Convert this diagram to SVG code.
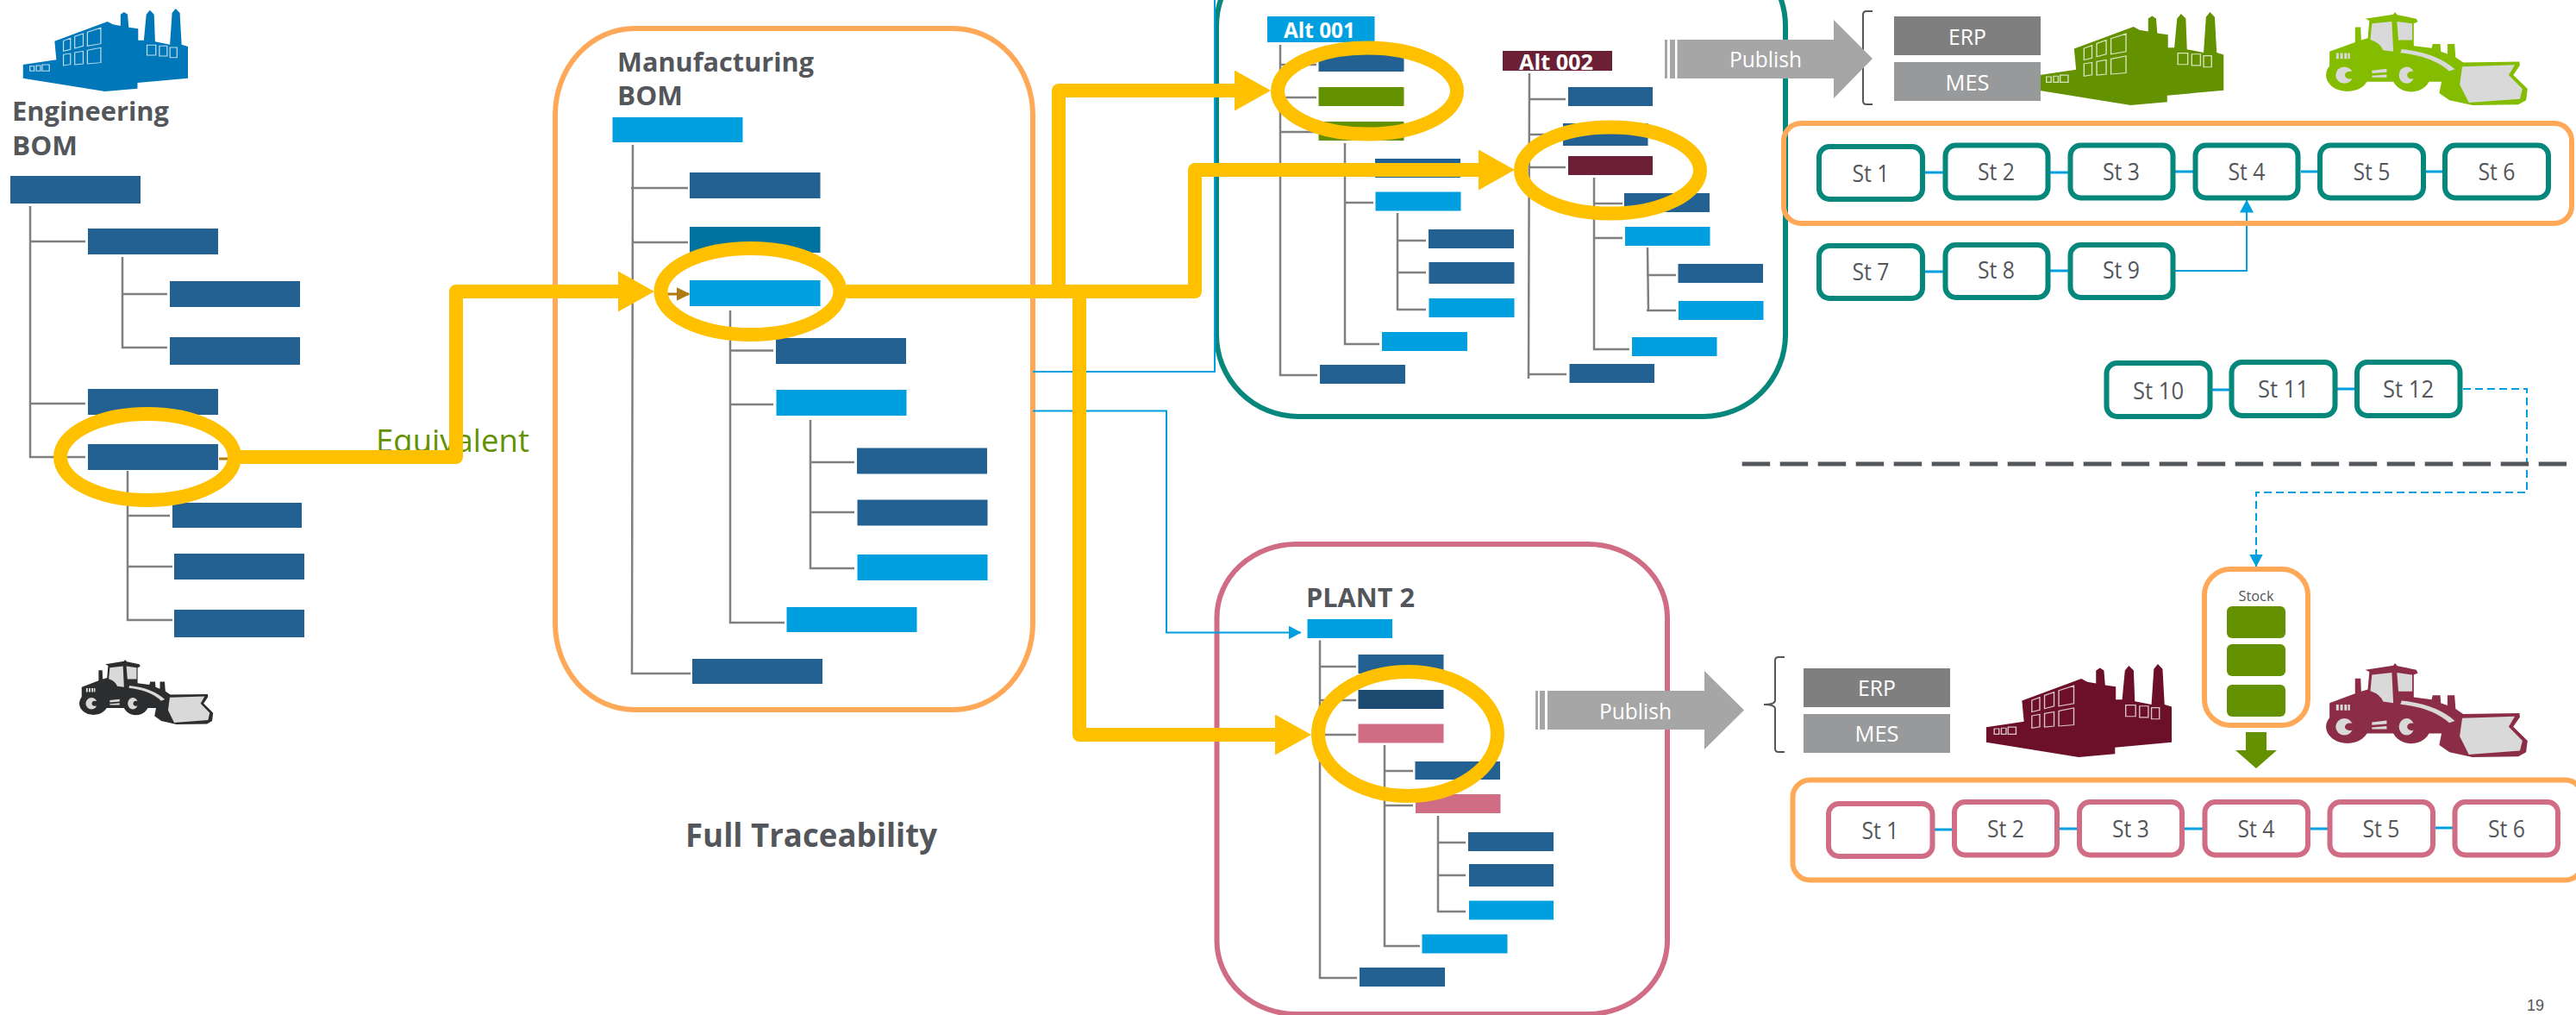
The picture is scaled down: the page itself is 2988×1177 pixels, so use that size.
<svg xmlns="http://www.w3.org/2000/svg" width="2988" height="1177" viewBox="0 0 2988 1177">
<style>
text{font-family:"Open Sans","Liberation Sans",sans-serif}
.d{fill:#236192}.l{fill:#009FDF}.g{fill:#639100}.m{fill:#6B2035}.p{fill:#D06D85}
.title{font-weight:700;font-size:31px;fill:#53565A}
.alt{font-weight:700;font-size:25px;fill:#fff}
.sys{font-size:26px;fill:#fff}
.pub{font-size:26px;fill:#fff}
.box{fill:none;stroke-width:6}
.or{stroke:#FFA857}.te{stroke:#05877B}.pk{stroke:#D06D85}
.st{fill:#fff;stroke-width:6}
.stx{font-size:27px;fill:#53565A}
.tree{fill:none;stroke:#7F7F7F;stroke-width:2.5}
.link{fill:none;stroke:#009FDF;stroke-width:3}
.thin{fill:none;stroke:#009FDF;stroke-width:2}
.hl{fill:none;stroke:#FFC000;stroke-width:16}
.hp{fill:none;stroke:#FFC000;stroke-width:16;stroke-linejoin:round}
.br{fill:none;stroke:#53565A;stroke-width:2}
.win{fill:none;stroke:#fff;stroke-opacity:.75;stroke-width:3}
.gr{fill:#D9D9D9}
</style>
<defs>
<symbol id="factory" viewBox="65 30 468 288" preserveAspectRatio="none">
<path d="M65 225L160 208L155 143L305 75L320 85L342 90L342 50L352 42L362 50L365 95L392 100L392 140L408 140L415 50L425 35L437 50L440 145L482 155L488 45L498 30L510 45L515 155L533 162L533 272L390 288L390 308L298 318L65 272Z"/>
<path class="win" d="M180 142L200 133V172L180 178ZM212 127L236 117V160L212 168ZM248 112L286 97V152L248 160ZM180 190L200 186V224L180 228ZM212 183L236 178V222L212 225ZM248 175L286 166V218L248 222ZM417 157H442V192H417ZM452 160H474V195H452ZM482 165H502V200H482ZM85 230H97V247H85ZM103 228H115V247H103ZM120 225H140V247H120Z"/>
</symbol>
<symbol id="loader" viewBox="1078 42 397 325" preserveAspectRatio="none">
<path d="M1085 180L1135 147V95H1146L1147 140L1160 133L1163 72L1155 65L1210 50L1213 42L1218 52L1255 65L1258 76L1250 82V160L1285 168L1287 153H1302L1303 180L1316 188V153H1330L1332 200L1350 222L1340 255L1310 285H1160L1085 290Z"/>
<ellipse cx="1120" cy="262" rx="42" ry="57"/><ellipse cx="1245" cy="262" rx="38" ry="58"/>
<path d="M1345 218L1457 215L1458 228L1445 262L1473 310L1470 350L1455 365L1365 367L1320 350L1300 325L1305 280Z"/>
<path class="gr" d="M1345 232L1448 226L1436 262L1463 310L1458 345L1358 358L1340 295Z"/>
<path class="gr" d="M1168 82L1207 75L1210 180L1190 175Q1185 150 1165 138Z"/>
<path class="gr" d="M1217 75L1247 82V140L1220 140Z"/>
<path d="M1225 178Q1290 190 1325 245" fill="none" stroke="#D9D9D9" stroke-width="13"/>
<ellipse class="gr" cx="1114" cy="262" rx="17" ry="29"/><ellipse cx="1125" cy="262" rx="10" ry="13"/>
<ellipse class="gr" cx="1236" cy="262" rx="15" ry="29"/><ellipse cx="1246" cy="262" rx="9" ry="13"/>
<path class="gr" d="M1168 246L1197 240V252L1168 256ZM1168 264L1197 260V270H1168Z"/>
<path class="gr" d="M1098 185H1103V205H1098ZM1106 185H1111V205H1106ZM1114 185H1119V205H1114ZM1121 185H1125V205H1121Z"/>
</symbol>
<marker id="ah" viewBox="0 0 42 47" refX="1" refY="23.5" markerWidth="42" markerHeight="47" markerUnits="userSpaceOnUse" orient="auto"><path d="M0 0L42 23.5L0 47Z" fill="#FFC000"/></marker>
<marker id="cy" viewBox="0 0 15 16" refX="14.5" refY="8" markerWidth="15" markerHeight="16" markerUnits="userSpaceOnUse" orient="auto"><path d="M0 0L15 8L0 16Z" fill="#009FDF"/></marker>
<marker id="br" viewBox="0 0 10 10" refX="9" refY="5" markerWidth="16" markerHeight="16" markerUnits="userSpaceOnUse" orient="auto"><path d="M0 0L10 5L0 10Z" fill="#B07A10"/></marker>
</defs>

<g id="equivalent-label"><text x="436" y="524" font-size="37" fill="#639100" textLength="178" lengthAdjust="spacingAndGlyphs">Equivalent</text></g>

<g id="engineering-bom">
<use href="#factory" x="26.5" y="10" width="191.5" height="96" fill="#0077B8"/>
<text class="title" x="14" y="140" textLength="182" lengthAdjust="spacingAndGlyphs">Engineering</text><text class="title" x="14" y="180" textLength="76" lengthAdjust="spacingAndGlyphs">BOM</text>
<rect class="d" x="12" y="204" width="151" height="32"/>
<rect class="d" x="102" y="265" width="151" height="30"/>
<rect class="d" x="197" y="326" width="151" height="30"/>
<rect class="d" x="197" y="391" width="151" height="32"/>
<rect class="d" x="102" y="451" width="151" height="30"/>
<rect class="d" x="102" y="515" width="151" height="30"/>
<rect class="d" x="200" y="583" width="150" height="29"/>
<rect class="d" x="202" y="642" width="151" height="30"/>
<rect class="d" x="202" y="707" width="151" height="32"/>
<use href="#loader" x="92" y="765" width="156" height="75" fill="#2B2D2E"/>
</g>

<g id="manufacturing-bom">
<rect class="box or" x="644" y="33" width="554" height="790" rx="92" ry="100"/>
<text class="title" x="716" y="83" textLength="228" lengthAdjust="spacingAndGlyphs">Manufacturing</text><text class="title" x="716" y="122" textLength="76" lengthAdjust="spacingAndGlyphs">BOM</text>
<rect class="l" x="710.5" y="136" width="151" height="29"/>
<rect class="d" x="800" y="200" width="151.500" height="30"/>
<rect fill="#00729F" x="800" y="263" width="151.500" height="30"/>
<rect class="l" x="800" y="325" width="151.500" height="30"/>
<rect class="d" x="900" y="392" width="151" height="30"/>
<rect class="l" x="900.500" y="452" width="151" height="30"/>
<rect class="d" x="994" y="519.500" width="151" height="30"/>
<rect class="d" x="994.500" y="579.500" width="151" height="30"/>
<rect class="l" x="994.500" y="643" width="151" height="30"/>
<rect class="l" x="912.500" y="704" width="151" height="29"/>
<rect class="d" x="803" y="764" width="151" height="29"/>
</g>

<g id="alternatives">
<rect class="box te" x="1411" y="-65" width="660" height="548" rx="95" ry="95"/>
<rect class="l" x="1470" y="19" width="124.500" height="30"/>
<text class="alt" x="1489" y="44" textLength="83" lengthAdjust="spacingAndGlyphs">Alt 001</text>
<rect class="d" x="1529.500" y="61" width="99" height="22"/>
<rect class="g" x="1529.500" y="101" width="99" height="22"/>
<rect class="g" x="1529.500" y="141" width="99" height="22"/>
<rect class="d" x="1595" y="184" width="99" height="22"/>
<rect class="l" x="1595.500" y="222.500" width="99" height="22"/>
<rect class="d" x="1657" y="266" width="99" height="22"/>
<rect class="d" x="1657.500" y="304" width="99" height="25"/>
<rect class="l" x="1657.500" y="346" width="99" height="22"/>
<rect class="l" x="1603" y="385" width="99" height="22"/>
<rect class="d" x="1531" y="423" width="99" height="22"/>
<rect class="m" x="1743" y="59" width="127" height="23"/>
<text class="alt" x="1762" y="80.500" textLength="86" lengthAdjust="spacingAndGlyphs">Alt 002</text>
<rect class="d" x="1819" y="101" width="98" height="22"/>
<rect class="d" x="1813" y="143" width="98.500" height="26"/>
<rect class="m" x="1819" y="181" width="98" height="22"/>
<rect class="d" x="1884" y="224" width="99" height="22"/>
<rect class="l" x="1885" y="263" width="98.500" height="22"/>
<rect class="d" x="1946.500" y="306" width="98.500" height="22"/>
<rect class="l" x="1947" y="349" width="98.500" height="22"/>
<rect class="l" x="1893" y="391" width="98.500" height="22"/>
<rect class="d" x="1820.500" y="422" width="98.500" height="22"/>
</g>

<g id="plant-2">
<rect class="box pk" x="1411.500" y="631" width="522.500" height="545" rx="92" ry="85"/>
<text class="title" x="1515" y="703.500" textLength="126" lengthAdjust="spacingAndGlyphs">PLANT 2</text>
<rect class="l" x="1516.500" y="718" width="98.500" height="22"/>
<rect class="d" x="1575.500" y="759" width="99" height="22"/>
<rect fill="#1C4A70" x="1575.500" y="800" width="99" height="22"/>
<rect class="p" x="1575.500" y="839.500" width="99" height="22"/>
<rect class="d" x="1641.500" y="883" width="98.500" height="21"/>
<rect class="p" x="1642" y="921" width="98.500" height="22"/>
<rect class="d" x="1703" y="965" width="99" height="22"/>
<rect class="d" x="1704" y="1002" width="98" height="26"/>
<rect class="l" x="1704" y="1044.500" width="98" height="22"/>
<rect class="l" x="1649.500" y="1083.500" width="99" height="22"/>
<rect class="d" x="1577" y="1122" width="99" height="22"/>
</g>

<g id="connectors">
<path class="tree" d="M35 239V530H99M35 280H99M35 468H99M142 298V403H194M142 341H194M148 546V719H200M148 598H197M148 657H200"/>
<path class="tree" d="M734 168L733 781H801M732 218H798M734 281H798M847 360V722H910M847 406.500H897M846 469H897M940 487V659H991M940 536H991M940 594H991"/>
<path class="tree" d="M1485 52V435H1528M1485 75H1527M1485 113H1527M1485 153H1527M1560 166V399H1600M1560 195H1592M1560 235H1593M1621 247V359H1654M1621 279H1654M1621 316H1654"/>
<path class="tree" d="M1774 85L1773 439M1773 434H1817M1774 115H1816M1774 156H1811M1774 194H1816M1849 206V405H1890M1849 236H1882M1849 276H1882M1911 287L1912 360M1910 319H1944M1910 360H1944"/>
<path class="tree" d="M1531 742.500V1134H1574M1531 773H1573M1531 812H1573M1531 852H1573M1606 864V1097H1647M1606 894H1639M1606 934H1639M1668 946V1057H1700M1668 977H1700M1668 1015H1700"/>
<path class="thin" d="M1198 431H1409V0"/>
<path class="thin" d="M1198 476.500H1353V733.500H1509" marker-end="url(#cy)"/>
<path d="M254 532H264" stroke="#B07A10" stroke-width="3" fill="none"/>
<path d="M774 341H799" stroke="#B07A10" stroke-width="3" fill="none" marker-end="url(#br)"/>
<path class="hp" d="M264 530H529V338H718" marker-end="url(#ah)"/>
<path class="hp" d="M982 338H1228V105H1433" marker-end="url(#ah)"/>
<path class="hp" d="M982 338H1386V197H1716" marker-end="url(#ah)"/>
<path class="hp" d="M1229 338H1252V852H1480" marker-end="url(#ah)"/>
<path class="link" d="M2233 200H2254M2378 200H2399M2523 199H2544M2669 199H2688M2814 199H2833M2233 315H2254M2378 314H2399M2566 452H2586M2711 451H2731"/>
<path class="link" d="M2244 962H2264M2389 961H2409M2534 961H2555M2680 961H2700M2825 960H2845"/>
<path class="thin" d="M2523 314H2606V232" marker-end="url(#cy)"/>
<path class="thin" stroke-width="2.500" stroke-dasharray="9 5" d="M2857 451H2931V571H2617V657" marker-end="url(#cy)"/>
<path fill="none" stroke="#53565A" stroke-width="5" stroke-dasharray="32.500 11.500" d="M2020.700 538H2977"/>
</g>

<g id="highlights">
<ellipse class="hl" cx="171" cy="530" rx="101" ry="50"/>
<ellipse class="hl" cx="870.500" cy="338" rx="104" ry="50"/>
<ellipse class="hl" cx="1586" cy="105.500" rx="104" ry="50"/>
<ellipse class="hl" cx="1868" cy="197.500" rx="104" ry="50"/>
<ellipse class="hl" cx="1633" cy="851" rx="104" ry="72"/>
</g>

<g id="publish-top">
<path class="br" d="M2172 13H2165Q2161 13 2161 17V117Q2161 121 2165 121H2172"/>
<path fill="#A6A6A6" d="M1931 46h3v45h-3ZM1937 46h6v45h-6ZM1945.500 46H2127V23L2172 68L2127 114V91H1945.500Z"/>
<text class="pub" x="2006" y="78" textLength="84" lengthAdjust="spacingAndGlyphs">Publish</text>
</g>
<g id="plant-1-top">
<use href="#factory" x="2364.500" y="14" width="215" height="108" fill="#639100"/>
<use href="#loader" x="2698" y="14" width="235" height="108" fill="#84BD00"/>
</g>
<g id="erp-top"><rect fill="#7F7F7F" x="2197" y="19" width="170" height="45"/><text class="sys" x="2260" y="52" textLength="44" lengthAdjust="spacingAndGlyphs">ERP</text></g>
<g id="mes-top"><rect fill="#97999B" x="2197" y="72" width="170" height="45"/><text class="sys" x="2256.500" y="105" textLength="51" lengthAdjust="spacingAndGlyphs">MES</text></g>

<g id="publish-bottom">
<path class="br" d="M2070 762H2063Q2059 762 2059 766V812Q2059 817 2046 817Q2059 817 2059 822V868Q2059 872 2063 872H2070"/>
<path fill="#A6A6A6" d="M1781 801h3v45h-3ZM1786 801h6v45h-6ZM1795 801H1977V778L2023 823.500L1977 869V846H1795Z"/>
<text class="pub" x="1855" y="834" textLength="84" lengthAdjust="spacingAndGlyphs">Publish</text>
</g>
<g id="erp-bottom"><rect fill="#7F7F7F" x="2092" y="775" width="170" height="45"/><text class="sys" x="2155" y="807" textLength="44" lengthAdjust="spacingAndGlyphs">ERP</text></g>
<g id="mes-bottom"><rect fill="#97999B" x="2092" y="828" width="170" height="45"/><text class="sys" x="2151.500" y="860" textLength="51" lengthAdjust="spacingAndGlyphs">MES</text></g>
<g id="plant-2-icons">
<use href="#factory" x="2304" y="770" width="215" height="108" fill="#6B1028"/>
<use href="#loader" x="2698" y="769" width="235" height="109" fill="#8C2D48"/>
</g>

<g id="top-line"><rect class="box or" x="2069" y="143" width="914" height="116" rx="20"/></g>
<g id="st-1"><rect class="st te" x="2110" y="170" width="120" height="61" rx="12"/><text class="stx" x="2148.500" y="211" textLength="43" lengthAdjust="spacingAndGlyphs">St 1</text></g>
<g id="st-2"><rect class="st te" x="2256.500" y="168.500" width="119" height="61" rx="12"/><text class="stx" x="2294" y="209" textLength="43" lengthAdjust="spacingAndGlyphs">St 2</text></g>
<g id="st-3"><rect class="st te" x="2401.500" y="168.500" width="119" height="61" rx="12"/><text class="stx" x="2439" y="209" textLength="43" lengthAdjust="spacingAndGlyphs">St 3</text></g>
<g id="st-4"><rect class="st te" x="2546.500" y="168.500" width="119" height="61" rx="12"/><text class="stx" x="2584.500" y="209" textLength="43" lengthAdjust="spacingAndGlyphs">St 4</text></g>
<g id="st-5"><rect class="st te" x="2691" y="168.500" width="120" height="61" rx="12"/><text class="stx" x="2729.500" y="209" textLength="43" lengthAdjust="spacingAndGlyphs">St 5</text></g>
<g id="st-6"><rect class="st te" x="2836" y="168.500" width="120" height="61" rx="12"/><text class="stx" x="2874.500" y="209" textLength="43" lengthAdjust="spacingAndGlyphs">St 6</text></g>
<g id="st-7"><rect class="st te" x="2110" y="285" width="120" height="61" rx="12"/><text class="stx" x="2148.500" y="325" textLength="43" lengthAdjust="spacingAndGlyphs">St 7</text></g>
<g id="st-8"><rect class="st te" x="2256.500" y="284" width="119" height="61" rx="12"/><text class="stx" x="2294" y="323" textLength="43" lengthAdjust="spacingAndGlyphs">St 8</text></g>
<g id="st-9"><rect class="st te" x="2401.500" y="284" width="119" height="61" rx="12"/><text class="stx" x="2439" y="323" textLength="43" lengthAdjust="spacingAndGlyphs">St 9</text></g>
<g id="st-10"><rect class="st te" x="2443.500" y="421" width="120" height="62" rx="12"/><text class="stx" x="2474" y="463" textLength="59" lengthAdjust="spacingAndGlyphs">St 10</text></g>
<g id="st-11"><rect class="st te" x="2588.500" y="420" width="120" height="62" rx="12"/><text class="stx" x="2619" y="461" textLength="59" lengthAdjust="spacingAndGlyphs">St 11</text></g>
<g id="st-12"><rect class="st te" x="2734" y="420" width="119.500" height="62" rx="12"/><text class="stx" x="2764" y="461" textLength="59" lengthAdjust="spacingAndGlyphs">St 12</text></g>

<g id="stock">
<rect class="box or" x="2557" y="660" width="120" height="181" rx="30"/>
<text x="2596.500" y="697" font-size="17" fill="#53565A" textLength="41" lengthAdjust="spacingAndGlyphs">Stock</text>
<rect class="g" x="2583" y="703" width="68" height="37" rx="6"/>
<rect class="g" x="2583" y="747" width="68" height="37" rx="6"/>
<rect class="g" x="2583" y="794" width="68" height="37" rx="6"/>
<path class="g" d="M2605 849H2629V870H2641L2617 891L2593 870H2605Z"/>
</g>

<g id="bottom-line"><rect class="box or" x="2079.500" y="904.500" width="916" height="116" rx="20"/></g>
<g id="st-b1"><rect class="st pk" x="2121" y="932" width="120.500" height="61" rx="12"/><text class="stx" x="2159.500" y="973" textLength="43" lengthAdjust="spacingAndGlyphs">St 1</text></g>
<g id="st-b2"><rect class="st pk" x="2267" y="930" width="119" height="61.500" rx="12"/><text class="stx" x="2305" y="971" textLength="43" lengthAdjust="spacingAndGlyphs">St 2</text></g>
<g id="st-b3"><rect class="st pk" x="2412" y="930" width="119" height="61.500" rx="12"/><text class="stx" x="2450" y="971" textLength="43" lengthAdjust="spacingAndGlyphs">St 3</text></g>
<g id="st-b4"><rect class="st pk" x="2557.500" y="930" width="119.500" height="61.500" rx="12"/><text class="stx" x="2595.500" y="971" textLength="43" lengthAdjust="spacingAndGlyphs">St 4</text></g>
<g id="st-b5"><rect class="st pk" x="2702.500" y="930" width="119.500" height="61.500" rx="12"/><text class="stx" x="2740.500" y="971" textLength="43" lengthAdjust="spacingAndGlyphs">St 5</text></g>
<g id="st-b6"><rect class="st pk" x="2847.500" y="930" width="119.500" height="61.500" rx="12"/><text class="stx" x="2886" y="971" textLength="43" lengthAdjust="spacingAndGlyphs">St 6</text></g>

<g id="caption"><text x="795" y="982" font-size="38" font-weight="700" fill="#53565A" textLength="292" lengthAdjust="spacingAndGlyphs">Full Traceability</text></g>
<g id="page-number"><text x="2931" y="1172" font-size="18" fill="#53565A" style="font-family:'Liberation Sans',sans-serif">19</text></g>
</svg>
